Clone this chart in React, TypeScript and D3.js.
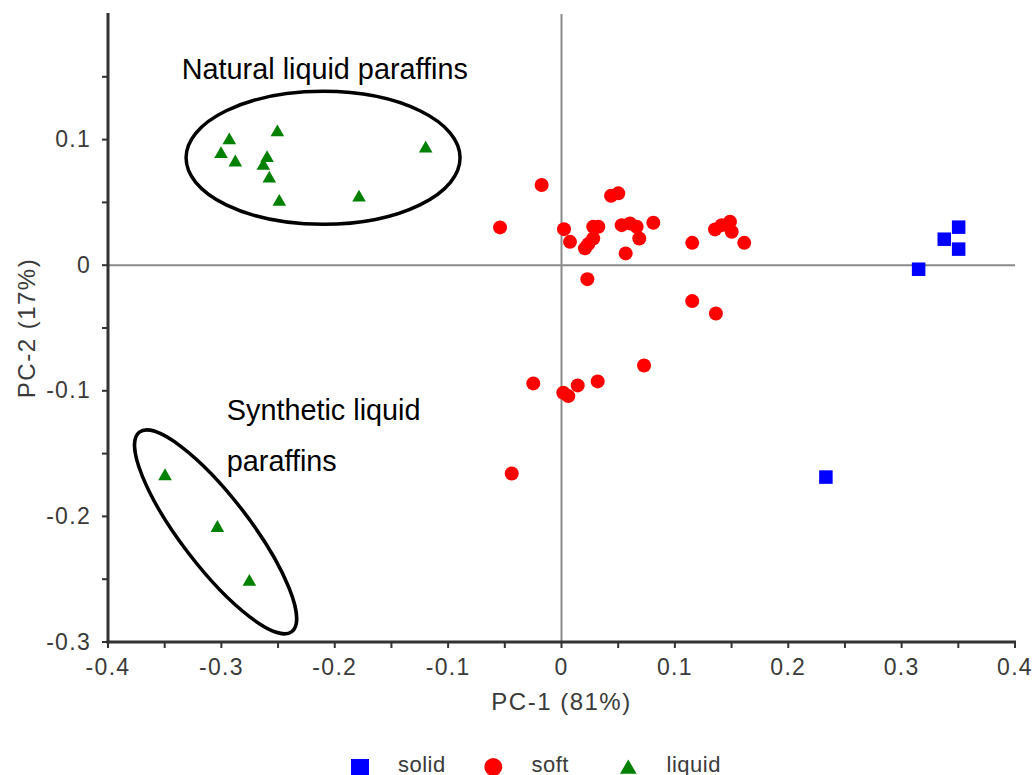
import React from "react";
import * as d3 from "d3";

// PCA scores (PC-1, PC-2) for each paraffin group
const solidScores: [number, number][] = [
  [0.3503, 0.0303],
  [0.3376, 0.0207],
  [0.3503, 0.0128],
  [0.315, -0.0032],
  [0.2332, -0.1687],
];

const softScores: [number, number][] = [
  [-0.0175, 0.0638],
  [-0.0542, 0.0301],
  [0.0022, 0.0287],
  [0.0075, 0.0186],
  [0.0437, 0.0553],
  [0.0501, 0.0572],
  [0.028, 0.0306],
  [0.0325, 0.0306],
  [0.028, 0.0213],
  [0.0236, 0.0168],
  [0.0207, 0.0134],
  [0.0531, 0.0319],
  [0.0604, 0.0333],
  [0.0663, 0.0306],
  [0.0686, 0.0213],
  [0.081, 0.0338],
  [0.0566, 0.0094],
  [0.0228, -0.0111],
  [0.1153, 0.0178],
  [0.1354, 0.0285],
  [0.1413, 0.0319],
  [0.1486, 0.0346],
  [0.1501, 0.0266],
  [0.1612, 0.0178],
  [0.1153, -0.0286],
  [0.1362, -0.0384],
  [-0.0249, -0.0941],
  [0.0016, -0.1016],
  [0.006, -0.1042],
  [0.0143, -0.0957],
  [0.0319, -0.0925],
  [0.0728, -0.0798],
  [-0.0439, -0.1658],
];

const liquidScores: [number, number][] = [
  [-0.293, 0.0995],
  [-0.3003, 0.0884],
  [-0.2877, 0.0818],
  [-0.2506, 0.1057],
  [-0.2597, 0.0852],
  [-0.263, 0.0791],
  [-0.2577, 0.069],
  [-0.2489, 0.0504],
  [-0.1786, 0.0539],
  [-0.1198, 0.0929],
  [-0.3497, -0.168],
  [-0.3035, -0.2092],
  [-0.2753, -0.2521],
];

const xTicks = [-0.4, -0.3, -0.2, -0.1, 0, 0.1, 0.2, 0.3, 0.4];
const xTickLabels = ["-0.4", "-0.3", "-0.2", "-0.1", "0", "0.1", "0.2", "0.3", "0.4"];
const yTicks = [-0.3, -0.2, -0.1, 0, 0.1];
const yTickLabels = ["-0.3", "-0.2", "-0.1", "0", "0.1"];
const xMinorTicks = d3.range(-8, 9).map((i) => i * 0.05);
const yMinorTicks = d3.range(-6, 4).map((i) => i * 0.05);

const legendLabels = ["solid", "soft", "liquid"];

// Group outlines: centre and label anchor in PC units
const naturalGroup = { label: ["Natural liquid paraffins"], cx: -0.2103, cy: 0.0855, tx: -0.3349, ty: 0.1482 };
const syntheticGroup = { label: ["Synthetic liquid", "paraffins"], cx: -0.3051, cy: -0.2123, tx: -0.2952, ty: -0.1233 };

const W = 1035;
const H = 775;
const FONT = "'Liberation Sans', Arial, Helvetica, sans-serif";
const AXIS_COLOR = "#333";
const TEXT_COLOR = "#3a3a3a";
const COLORS = { solid: "#0000ff", soft: "#ff0000", liquid: "#008000" };

export default function App() {
  const x = d3.scaleLinear().domain([-0.4, 0.4]).range([108, 1015]);
  const y = d3.scaleLinear().domain([-0.3, 0.2]).range([642, 14]);

  const tri = d3.symbol().type(d3.symbolTriangle).size(80)() as string;
  const legendTri = d3.symbol().type(d3.symbolTriangle).size(120)() as string;
  const sq = 13.5;
  const legendBase = 771.5;

  return (
    <svg
      width={W}
      height={H}
      style={{ position: "absolute", left: 0, top: 0, background: "#fff" }}
      fontFamily={FONT}
    >
      <rect x={0} y={0} width={W} height={H} fill="#fff" />

      {/* zero reference lines */}
      <line x1={x(0)} x2={x(0)} y1={y(0.2)} y2={y(-0.3)} stroke="#8a8a8a" strokeWidth={2} />
      <line x1={x(-0.4)} x2={x(0.4)} y1={y(0)} y2={y(0)} stroke="#8a8a8a" strokeWidth={2} />

      {/* axes */}
      <line x1={x(-0.4)} x2={x(-0.4)} y1={y(0.2) - 1} y2={y(-0.3) + 1.5} stroke={AXIS_COLOR} strokeWidth={3} />
      <line x1={x(-0.4) - 1.5} x2={x(0.4) + 1} y1={y(-0.3)} y2={y(-0.3)} stroke={AXIS_COLOR} strokeWidth={3} />
      {xMinorTicks.map((t, i) => (
        <line key={"xt" + i} x1={x(t)} x2={x(t)} y1={y(-0.3)} y2={y(-0.3) + 6} stroke={AXIS_COLOR} strokeWidth={2} />
      ))}
      {yMinorTicks.map((t, i) => (
        <line key={"yt" + i} x1={x(-0.4) - 6} x2={x(-0.4)} y1={y(t)} y2={y(t)} stroke={AXIS_COLOR} strokeWidth={2} />
      ))}
      {xTicks.map((t, i) => (
        <text
          key={"xl" + i}
          x={x(t)}
          y={y(-0.3) + 33}
          textAnchor="middle"
          fontSize={23}
          letterSpacing={1.3}
          fill={TEXT_COLOR}
        >
          {xTickLabels[i]}
        </text>
      ))}
      {yTicks.map((t, i) => (
        <text
          key={"yl" + i}
          x={x(-0.4) - 17}
          y={y(t) + 7.5}
          textAnchor="end"
          fontSize={23}
          letterSpacing={1.3}
          fill={TEXT_COLOR}
        >
          {yTickLabels[i]}
        </text>
      ))}

      {/* axis titles */}
      <text
        x={(x(-0.4) + x(0.4)) / 2}
        y={710}
        textAnchor="middle"
        fontSize={24}
        letterSpacing={1.5}
        fill={TEXT_COLOR}
      >
        PC-1 (81%)
      </text>
      <text
        transform={`translate(35,${(y(0.2) + y(-0.3)) / 2}) rotate(-90)`}
        textAnchor="middle"
        fontSize={24}
        letterSpacing={1.5}
        fill={TEXT_COLOR}
      >
        PC-2 (17%)
      </text>

      {/* group outlines */}
      <ellipse
        cx={x(naturalGroup.cx)}
        cy={y(naturalGroup.cy)}
        rx={137}
        ry={66.5}
        fill="none"
        stroke="#000"
        strokeWidth={3.5}
      />
      <ellipse
        transform={`translate(${x(syntheticGroup.cx)},${y(syntheticGroup.cy)}) rotate(52.6)`}
        rx={125.5}
        ry={34.5}
        fill="none"
        stroke="#000"
        strokeWidth={3.5}
      />
      {[naturalGroup, syntheticGroup].map((g, gi) =>
        g.label.map((line, li) => (
          <text
            key={`ann${gi}-${li}`}
            x={x(g.tx)}
            y={y(g.ty) + li * 50.7}
            fontSize={28.8}
            fill="#000"
          >
            {line}
          </text>
        ))
      )}

      {/* points */}
      {softScores.map((d, i) => (
        <circle key={"s" + i} cx={x(d[0])} cy={y(d[1])} r={7} fill={COLORS.soft} />
      ))}
      {liquidScores.map((d, i) => (
        <path key={"l" + i} d={tri} transform={`translate(${x(d[0])},${y(d[1])})`} fill={COLORS.liquid} />
      ))}
      {solidScores.map((d, i) => (
        <rect
          key={"q" + i}
          x={x(d[0]) - sq / 2}
          y={y(d[1]) - sq / 2}
          width={sq}
          height={sq}
          fill={COLORS.solid}
        />
      ))}

      {/* legend */}
      <g>
        <rect x={351} y={759} width={18} height={18} fill={COLORS.solid} />
        <text x={398} y={legendBase} fontSize={22} letterSpacing={0.5} fill={TEXT_COLOR}>
          {legendLabels[0]}
        </text>
        <circle cx={493.3} cy={767} r={9} fill={COLORS.soft} />
        <text x={531.5} y={legendBase} fontSize={22} letterSpacing={0.5} fill={TEXT_COLOR}>
          {legendLabels[1]}
        </text>
        <path d={legendTri} transform="translate(628.3,769)" fill={COLORS.liquid} />
        <text x={666.5} y={legendBase} fontSize={22} letterSpacing={0.5} fill={TEXT_COLOR}>
          {legendLabels[2]}
        </text>
      </g>
    </svg>
  );
}
